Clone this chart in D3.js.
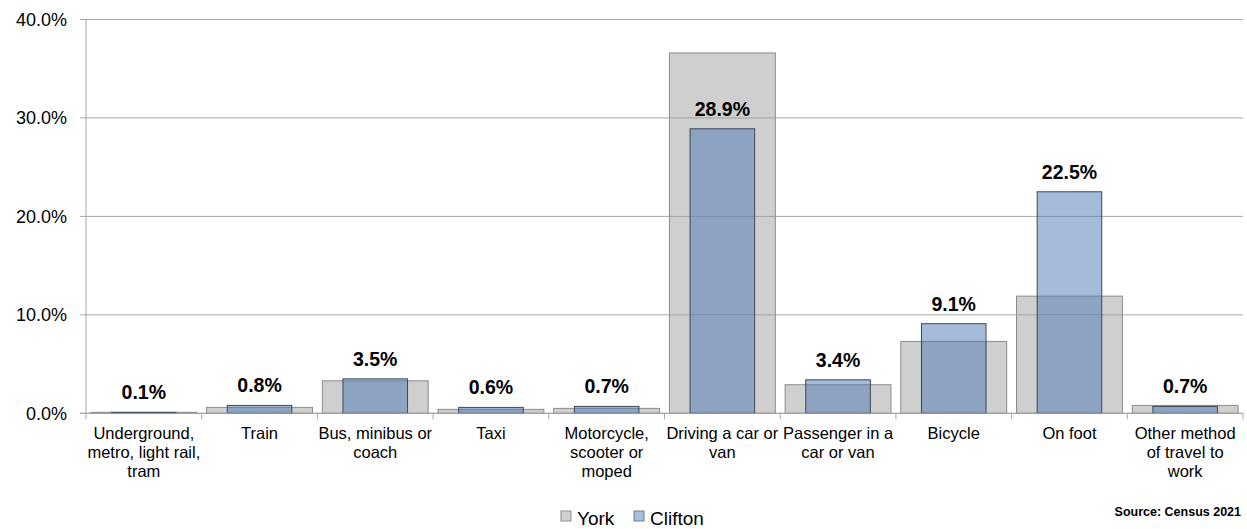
<!DOCTYPE html>
<html>
<head>
<meta charset="utf-8">
<script src="https://cdn.jsdelivr.net/npm/d3@7"></script>
<style>
  body { margin: 0; background: #fff; }
  text { font-family: "Liberation Sans", Arial, sans-serif; fill: #000; }
</style>
</head>
<body>
<div id="chart"></div>
<script>
// data
var categories = ["Underground, metro, light rail, tram", "Train", "Bus, minibus or coach", "Taxi",
    "Motorcycle, scooter or moped", "Driving a car or van", "Passenger in a car or van",
    "Bicycle", "On foot", "Other method of travel to work"];
var categoryLines = [
    ["Underground,", "metro, light rail,", "tram"],
    ["Train"],
    ["Bus, minibus or", "coach"],
    ["Taxi"],
    ["Motorcycle,", "scooter or", "moped"],
    ["Driving a car or", "van"],
    ["Passenger in a", "car or van"],
    ["Bicycle"],
    ["On foot"],
    ["Other method", "of travel to", "work"]
];
var york = [0.1, 0.6, 3.3, 0.4, 0.5, 36.6, 2.9, 7.3, 11.9, 0.8];
var clifton = [0.1, 0.8, 3.5, 0.6, 0.7, 28.9, 3.4, 9.1, 22.5, 0.7];
var yTicks = [0, 10, 20, 30, 40];
var seriesNames = ["York", "Clifton"];

var svgWidth = 1247;
var svgHeight = 529;

var margin = { top: 19.5, left: 86, right: 4, bottom: 116 };
var width = svgWidth - margin.left - margin.right;
var height = 413.3 - margin.top;

var svg = d3.select("#chart")
    .append("svg")
    .attr("width", svgWidth)
    .attr("height", svgHeight);

var chartGroup = svg.append("g")
    .attr("transform", `translate(${margin.left}, ${margin.top})`);

var xBand = d3.scaleBand()
    .domain(categories)
    .range([0, width])
    .paddingInner(0.085)
    .paddingOuter(0.0425);

var yLinearScale = d3.scaleLinear()
    .domain([0, 40])
    .range([height, 0]);

// gridlines
chartGroup.selectAll(".grid")
    .data(yTicks)
    .enter()
    .append("line")
    .attr("x1", -6)
    .attr("x2", width)
    .attr("y1", d => yLinearScale(d))
    .attr("y2", d => yLinearScale(d))
    .attr("stroke", "#a6a6a6")
    .attr("stroke-width", 1);

// y axis labels
chartGroup.selectAll(".ylab")
    .data(yTicks)
    .enter()
    .append("text")
    .attr("x", -19)
    .attr("y", d => yLinearScale(d))
    .attr("dy", "0.35em")
    .attr("text-anchor", "end")
    .style("font-size", "18px")
    .text(d => d.toFixed(1) + "%");

// York bars
chartGroup.selectAll(".york")
    .data(york)
    .enter()
    .append("rect")
    .attr("x", (d, i) => xBand(categories[i]))
    .attr("y", d => yLinearScale(d))
    .attr("width", xBand.bandwidth())
    .attr("height", d => height - yLinearScale(d))
    .attr("fill", "rgba(160,160,160,0.5)")
    .attr("stroke", "#8c8c8c")
    .attr("stroke-width", 1);

// Clifton bars
var cw = xBand.bandwidth() * 0.61;
chartGroup.selectAll(".clifton")
    .data(clifton)
    .enter()
    .append("rect")
    .attr("x", (d, i) => xBand(categories[i]) + (xBand.bandwidth() - cw) / 2)
    .attr("y", d => yLinearScale(d))
    .attr("width", cw)
    .attr("height", d => height - yLinearScale(d))
    .attr("fill", "rgba(74,122,180,0.5)")
    .attr("stroke", "#3c4757")
    .attr("stroke-width", 1);

// value labels
chartGroup.selectAll(".vlab")
    .data(clifton)
    .enter()
    .append("text")
    .attr("x", (d, i) => xBand(categories[i]) + xBand.bandwidth() / 2)
    .attr("y", d => yLinearScale(d) - 13)
    .attr("text-anchor", "middle")
    .style("font-size", "19.5px")
    .style("font-weight", "bold")
    .text(d => d.toFixed(1) + "%");

// axes lines
chartGroup.append("line")
    .attr("x1", 0).attr("x2", 0)
    .attr("y1", 0).attr("y2", height)
    .attr("stroke", "#a6a6a6");
chartGroup.append("line")
    .attr("x1", -6).attr("x2", width)
    .attr("y1", height).attr("y2", height)
    .attr("stroke", "#a6a6a6");

// x ticks at category boundaries
var step = xBand.step();
chartGroup.selectAll(".xtick")
    .data(d3.range(categories.length + 1))
    .enter()
    .append("line")
    .attr("x1", i => i === categories.length ? width : xBand(categories[i]) - step * xBand.paddingInner() / 2)
    .attr("x2", i => i === categories.length ? width : xBand(categories[i]) - step * xBand.paddingInner() / 2)
    .attr("y1", height)
    .attr("y2", height + 6)
    .attr("stroke", "#a6a6a6");

// category labels
categoryLines.forEach(function (lines, i) {
    var t = chartGroup.append("text")
        .attr("text-anchor", "middle")
        .attr("x", xBand(categories[i]) + xBand.bandwidth() / 2)
        .attr("y", height + 26)
        .style("font-size", "16.5px");
    lines.forEach(function (line, j) {
        t.append("tspan")
            .attr("x", xBand(categories[i]) + xBand.bandwidth() / 2)
            .attr("dy", j === 0 ? 0 : 18.7)
            .text(line);
    });
});

// legend
var legendColors = [["#d0d0d0", "#8c8c8c"], ["#a5bfdd", "#6a7f99"]];
var legendX = [561, 634];
seriesNames.forEach(function (name, i) {
    svg.append("rect")
        .attr("x", legendX[i])
        .attr("y", 511)
        .attr("width", 10)
        .attr("height", 10)
        .attr("fill", legendColors[i][0])
        .attr("stroke", legendColors[i][1]);
    svg.append("text")
        .attr("x", legendX[i] + 16)
        .attr("y", 525)
        .style("font-size", "19px")
        .text(name);
});

// source
svg.append("text")
    .attr("x", 1241)
    .attr("y", 516)
    .attr("text-anchor", "end")
    .style("font-size", "12.5px")
    .style("font-weight", "bold")
    .text("Source: Census 2021");
</script>
</body>
</html>
